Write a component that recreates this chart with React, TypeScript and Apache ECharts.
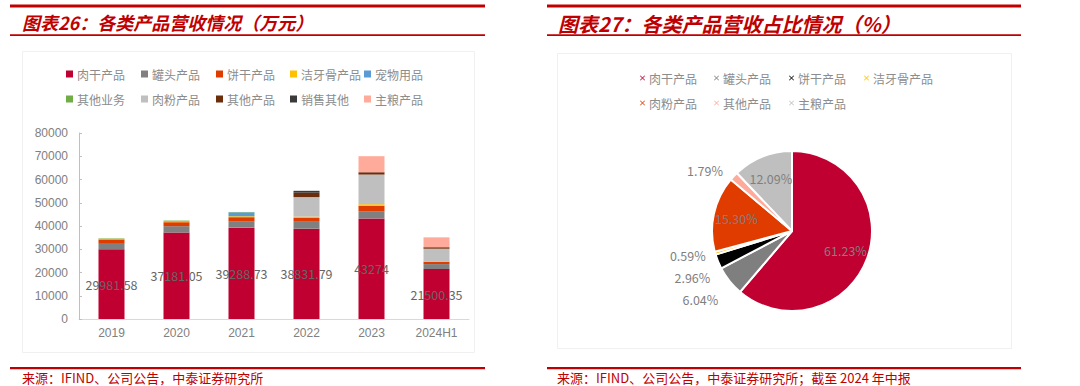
import React, { useEffect, useRef } from 'react';
import * as echarts from 'echarts';

// ---------- data ----------
const years = ['2019', '2020', '2021', '2022', '2023', '2024H1'];
const barNames = ['肉干产品', '罐头产品', '饼干产品', '洁牙骨产品', '宠物用品', '其他业务', '肉粉产品', '其他产品', '销售其他', '主粮产品'];
const barColors = ['#C00030', '#808080', '#E03C00', '#FFC000', '#5B9BD5', '#70AD47', '#BFBFBF', '#6B2D0A', '#3A3A3A', '#FFAB9B'];
const rouGan = [29981.58, 37181.05, 39288.73, 38831.79, 43274, 21500.35];
const guanTou = [2350, 2750, 2800, 3300, 3100, 2121];
const bingGan = [1900, 1700, 1700, 1300, 2300, 1039];
const jieYaGu = [250, 250, 400, 600, 700, 207];
const chongWu = [0, 250, 1700, 0, 0, 0];
const qiTaYeWu = [200, 200, 150, 0, 0, 0];
const rouFen = [0, 0, 0, 8400, 12750, 5372];
const qiTaChanPin = [0, 0, 0, 1900, 1000, 629];
const xiaoShouQiTa = [0, 0, 0, 800, 0, 0];
const zhuLiang = [0, 0, 0, 0, 6900, 4245];
const barValues = [rouGan, guanTou, bingGan, jieYaGu, chongWu, qiTaYeWu, rouFen, qiTaChanPin, xiaoShouQiTa, zhuLiang];
const yTicks = { min: 0, max: 80000, interval: 10000 };

const pieNames = ['肉干产品', '罐头产品', '饼干产品', '洁牙骨产品', '肉粉产品', '其他产品', '主粮产品'];
const pieValues = [61.23, 6.04, 2.96, 0.59, 15.3, 1.79, 12.09];
const pieColors = ['#C00030', '#7F7F7F', '#000000', '#FFC000', '#E03C00', '#FFAB9B', '#BFBFBF'];
const pieInside = [true, false, false, false, true, false, true];

const title1 = '图表26：各类产品营收情况（万元）';
const title2 = '图表27：各类产品营收占比情况（%）';
const source1 = '来源：IFIND、公司公告，中泰证券研究所';
const source2 = '来源：IFIND、公司公告，中泰证券研究所；截至 2024 年中报';

const CJK = "'Noto Sans CJK SC', 'Noto Sans', sans-serif";
const LAT = "'Liberation Sans', Arial, sans-serif";
const RED = '#C00000';
const CROSS = 'path://M1,0L5,4L9,0L10,1L6,5L10,9L9,10L5,6L1,10L0,9L4,5L0,1Z';

function legendGrid(names: string[], colors: string[], cols: number[], rows: number[], icon: string, size: number) {
  return names.map((n, i) => ({
    data: [{ name: n, itemStyle: { color: colors[i] } }],
    left: cols[i % cols.length],
    top: rows[Math.floor(i / cols.length)] - 7,
    padding: 0,
    icon,
    itemWidth: size,
    itemHeight: size,
    textStyle: { color: '#8C8C8C', fontSize: 12, fontFamily: CJK, padding: [0, 0, 0, -1] },
    selectedMode: false,
  }));
}

export default function App() {
  const ref = useRef<HTMLDivElement>(null);
  useEffect(() => {
    if (!ref.current) return;
    const chart = echarts.init(ref.current, undefined, { renderer: 'svg' });

    const barSeries = barNames.map((n, i) => ({
      name: n,
      type: 'bar',
      stack: 'total',
      barWidth: 26,
      data: barValues[i],
      itemStyle: { color: barColors[i] },
      label: i === 0 ? {
        show: true,
        position: 'inside',
        color: '#666666',
        fontSize: 12.5,
        fontFamily: CJK,
        formatter: (p: any) => String(p.value),
      } : { show: false },
      emphasis: { disabled: true },
    }));

    const pct = (p: any) => p.value.toFixed(2) + '%';

    const option: any = {
      animation: false,
      backgroundColor: '#FFFFFF',
      legend: [
        ...legendGrid(barNames, barColors, [66, 141, 216, 290, 364], [75, 100], 'rect', 7),
        ...legendGrid(pieNames, pieColors, [640, 714, 789, 864], [79, 104], CROSS, 5),
      ],
      grid: { left: 79, top: 133, width: 390, height: 186, containLabel: false },
      xAxis: {
        type: 'category',
        data: years,
        axisLine: { lineStyle: { color: '#D9D9D9' } },
        axisTick: { show: false },
        axisLabel: { color: '#808080', fontSize: 12, fontFamily: LAT, margin: 8 },
      },
      yAxis: {
        type: 'value',
        min: yTicks.min,
        max: yTicks.max,
        interval: yTicks.interval,
        axisLine: { show: true, lineStyle: { color: '#BFBFBF' } },
        axisTick: { show: true, inside: true, length: 3, lineStyle: { color: '#BFBFBF' } },
        splitLine: { show: false },
        axisLabel: { color: '#808080', fontSize: 12, fontFamily: LAT, margin: 11, formatter: (v: number) => String(v) },
      },
      series: [
        ...barSeries,
        {
          type: 'pie',
          center: [792, 231],
          radius: [0, 80],
          startAngle: 90,
          clockwise: true,
          avoidLabelOverlap: true,
          data: pieNames.map((n, i) => ({
            name: n,
            value: pieValues[i],
            itemStyle: { color: pieColors[i] },
            label: { show: !pieInside[i] },
          })),
          itemStyle: { borderColor: '#FFFFFF', borderWidth: 2 },
          label: { position: 'outside', formatter: pct, color: '#7F7F7F', fontSize: 12.5, fontFamily: CJK, lineHeight: 20 },
          labelLine: { show: false, length: 8, length2: 0 },
          emphasis: { disabled: true },
        },
        {
          type: 'pie',
          center: [792, 231],
          radius: [28, 80],
          startAngle: 90,
          clockwise: true,
          silent: true,
          data: pieNames.map((n, i) => ({
            name: n,
            value: pieValues[i],
            label: { show: pieInside[i] },
          })),
          itemStyle: { color: 'rgba(0,0,0,0)', borderWidth: 0 },
          label: { position: 'inside', formatter: pct, color: '#7F7F7F', fontSize: 12.5, fontFamily: CJK },
          labelLine: { show: false },
          emphasis: { disabled: true },
        },
      ],
      graphic: [
        // panels
        { type: 'rect', shape: { x: 22.5, y: 51.5, width: 452, height: 301 }, style: { fill: 'none', stroke: '#F0F0F0', lineWidth: 1 }, z: -1 },
        { type: 'rect', shape: { x: 557.5, y: 53.5, width: 454, height: 295 }, style: { fill: 'none', stroke: '#F0F0F0', lineWidth: 1 }, z: -1 },
        // title lines
        { type: 'rect', shape: { x: 10, y: 4.5, width: 475, height: 3 }, style: { fill: RED } },
        { type: 'rect', shape: { x: 10, y: 34.3, width: 475, height: 1.6 }, style: { fill: RED } },
        { type: 'rect', shape: { x: 547, y: 4.5, width: 474, height: 3 }, style: { fill: RED } },
        { type: 'rect', shape: { x: 547, y: 34.3, width: 474, height: 1.6 }, style: { fill: RED } },
        // titles
        { type: 'text', x: 22, y: 22, style: { text: title1, fill: RED, font: `italic bold 18px ${CJK}`, verticalAlign: 'middle' } },
        { type: 'text', x: 558, y: 23, style: { text: title2, fill: RED, font: `italic bold 20px ${CJK}`, verticalAlign: 'middle' } },
        // footer lines
        { type: 'rect', shape: { x: 10, y: 367, width: 475, height: 2.2 }, style: { fill: RED } },
        { type: 'rect', shape: { x: 547, y: 367, width: 474, height: 2.2 }, style: { fill: RED } },
        // sources
        { type: 'text', x: 22, y: 377, style: { text: source1, fill: RED, font: `13px ${CJK}`, lineHeight: 13, verticalAlign: 'middle' } },
        { type: 'text', x: 557, y: 377, style: { text: source2, fill: RED, font: `13px ${CJK}`, lineHeight: 13, verticalAlign: 'middle' } },
      ],
    };
    chart.setOption(option);
    return () => chart.dispose();
  }, []);
  return <div ref={ref} style={{ position: 'fixed', left: 0, top: 0, width: 1080, height: 386 }} />;
}
